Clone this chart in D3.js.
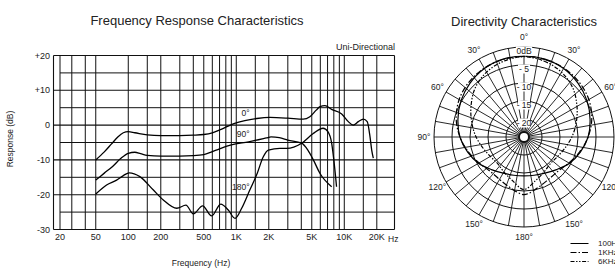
<!DOCTYPE html>
<html><head><meta charset="utf-8">
<script src="https://cdn.jsdelivr.net/npm/d3@7/dist/d3.min.js"></script>
<style>
body{margin:0;background:#fff}
svg{display:block}
text{font-family:"Liberation Sans",Arial,sans-serif;fill:#222}
</style>
</head><body>
<svg id="c" width="615" height="268"></svg>
<script>
// ---------- data ----------
const freqGrid = [20,30,40,50,100,150,200,300,400,500,600,700,800,900,1000,1500,2000,3000,4000,5000,6000,7000,8000,9000,10000,15000,20000];
const freqTicks = [20,50,100,200,500,1000,2000,5000,10000,20000];
const freqTickLabels = ["20","50","100","200","500","1K","2K","5K","10K","20K"];
const dbMajor = [20,10,0,-10,-20,-30];
const dbMajorLabels = ["+20","+10","0","-10","-20","-30"];
const dbMinor = [15,5,-5,-15,-25];

const resp0 = [[50,-10],[60,-7.7],[70,-5.4],[80,-3.4],[90,-2.2],[100,-1.9],[115,-2.2],[150,-2.8],[200,-3.0],[300,-3.0],[400,-2.9],[500,-2.7],[600,-2.2],[700,-1.4],[800,-0.6],[950,0.4],[1200,1.3],[1550,1.9],[2050,2.2],[3000,2.0],[4170,1.7],[4800,2.4],[5500,4.3],[5960,5.3],[6620,5.6],[7640,4.5],[9460,3.2],[10900,1.0],[12100,0],[13500,1.0],[15000,1.7],[16300,1.0],[17300,-3.3],[17940,-7.2],[18570,-9.5]];
const resp90 = [[50,-15.8],[60,-13.8],[72,-11.8],[85,-9.6],[100,-8.1],[115,-7.8],[130,-8.2],[150,-8.7],[200,-8.9],[300,-8.9],[400,-8.8],[500,-8.5],[600,-7.6],[700,-6.8],[900,-5.7],[1300,-4.8],[1900,-3.7],[2100,-3.4],[2500,-3.6],[3000,-4.3],[4030,-5.2],[4600,-7.2],[5170,-10],[5960,-13.9],[7640,-17.7]];
const resp180 = [[50,-19.8],[63,-17.2],[78,-15.8],[90,-14.5],[102,-13.7],[128,-14.8],[170,-18.6],[211,-21.5],[281,-23.9],[342,-23.0],[400,-25.5],[488,-23.2],[591,-26.1],[718,-22.7],[843,-24.4],[974,-26.8],[1122,-23.9],[1337,-18.6],[1544,-14.3],[1779,-9.1],[1982,-7.2],[2535,-6.7],[2930,-6.7],[4030,-5.2],[5160,-2.4],[6360,-0.9],[7050,-1.9],[7640,-5.2],[8000,-10],[8480,-17.7]];
const curveLabels = ["0°","90°","180°"];
const curveLabelPos = [[1330,2.6],[1330,-3.4],[1330,-18.6]];

const polarAngles = [0,15,30,45,60,75,90,105,120,135,150,165,180];
const polar100 = [-2.5,-2.6,-3.0,-3.8,-4.8,-6.0,-7.2,-8.8,-10.4,-12.2,-13.4,-14.0,-14.2];
const polar1k  = [-2.6,-2.7,-2.9,-3.4,-4.2,-5.5,-7.2,-9.0,-10.6,-11.6,-11.4,-10.4,-9.0];
const polar6k  = [-2.7,-3.2,-4.2,-5.8,-8.0,-10.0,-11.7,-13.2,-14.2,-14.6,-13.8,-12.5,-10.4];
const ringDb = [0,-5,-10,-15,-20];
const ringLabels = ["0dB","- 5","- 10","- 15","- 20"];
const angleLabelAngles = [0,30,60,90,120,150,180,-30,-60,-90,-120,-150];
const legendLabels = ["100Hz","1KHz","6KHz"];

// ---------- frequency response chart ----------
const svg = d3.select("#c");
const x = d3.scaleLog().domain([20,30,20000]).range([60,71.8,376.8]);
const y = d3.scaleLinear().domain([-30,20]).range([229.5,55.5]);
const L = 53.5, R = 394.5;
const g = svg.append("g");

g.selectAll("line.hmin").data(dbMinor).join("line").attr("class","hmin")
  .attr("x1",x(20)).attr("x2",R).attr("y1",d=>y(d)).attr("y2",d=>y(d))
  .attr("stroke","#111").attr("stroke-width",1);
g.selectAll("line.hmaj").data(dbMajor).join("line").attr("class","hmaj")
  .attr("x1",L).attr("x2",R).attr("y1",d=>y(d)).attr("y2",d=>y(d))
  .attr("stroke","#111").attr("stroke-width",1.1);
g.selectAll("line.v").data(freqGrid).join("line").attr("class","v")
  .attr("x1",d=>x(d)).attr("x2",d=>x(d)).attr("y1",y(20)).attr("y2",y(-30))
  .attr("stroke","#111").attr("stroke-width",1);
[L,R].forEach(px=>g.append("line").attr("x1",px).attr("x2",px).attr("y1",y(20)).attr("y2",y(-30)).attr("stroke","#111").attr("stroke-width",1.1));

g.selectAll("text.yl").data(dbMajor).join("text").attr("class","yl")
  .attr("x",50).attr("y",d=>y(d)).attr("dy","0.35em").attr("text-anchor","end")
  .attr("font-size",9).text((d,i)=>dbMajorLabels[i]);
g.selectAll("text.xl").data(freqTicks).join("text").attr("class","xl")
  .attr("x",d=>x(d)).attr("y",240).attr("text-anchor","middle")
  .attr("font-size",9).text((d,i)=>freqTickLabels[i]);
g.append("text").attr("x",388).attr("y",242).attr("font-size",8.5).text("Hz");

g.append("text").attr("x",197).attr("y",25).attr("text-anchor","middle").attr("font-size",13).text("Frequency Response Characteristics");
g.append("text").attr("x",395).attr("y",50).attr("text-anchor","end").attr("font-size",9).attr("fill","#333").text("Uni-Directional");
g.append("text").attr("x",201).attr("y",266).attr("text-anchor","middle").attr("font-size",8.5).text("Frequency (Hz)");
g.append("text").attr("transform","translate(13,139) rotate(-90)").attr("text-anchor","middle").attr("font-size",8.5).text("Response (dB)");

const line = d3.line().x(d=>x(d[0])).y(d=>y(d[1])).curve(d3.curveMonotoneX);
[resp0,resp90,resp180].forEach(s=>{
  g.append("path").attr("d",line(s)).attr("fill","none").attr("stroke","#000").attr("stroke-width",1.3);
});
g.selectAll("text.cl").data(curveLabelPos).join("text").attr("class","cl")
  .attr("x",d=>x(d[0])).attr("y",d=>y(d[1])).attr("text-anchor","end")
  .attr("font-size",8.5).attr("fill","#333").text((d,i)=>curveLabels[i]);

// ---------- directivity chart ----------
const cx = 524, cy = 137;
const r = d3.scaleLinear().domain([-25,0]).range([0,90]);
const p = svg.append("g").attr("transform",`translate(${cx},${cy})`);
svg.append("text").attr("x",cx).attr("y",26).attr("text-anchor","middle").attr("font-size",13).text("Directivity Characteristics");

const spokes = d3.range(0,360,10);
p.selectAll("line.sp").data(spokes).join("line").attr("class","sp")
  .attr("x1",d=>Math.sin(d*Math.PI/180)*4).attr("y1",d=>-Math.cos(d*Math.PI/180)*4)
  .attr("x2",d=>Math.sin(d*Math.PI/180)*r(0)).attr("y2",d=>-Math.cos(d*Math.PI/180)*r(0))
  .attr("stroke","#111").attr("stroke-width",0.9);
p.selectAll("circle.ring").data(ringDb).join("circle").attr("class","ring")
  .attr("r",d=>r(d)).attr("fill","none").attr("stroke","#111").attr("stroke-width",1);
p.append("circle").attr("r",5).attr("fill","#fff").attr("stroke","#111").attr("stroke-width",2);

// polar curves
function full(vals){
  const pts = polarAngles.map((a,i)=>[a,vals[i]]);
  const mirror = polarAngles.slice(1,-1).reverse().map(a=>[360-a, vals[polarAngles.indexOf(a)]]);
  return pts.concat(mirror);
}
const radial = d3.lineRadial().angle(d=>d[0]*Math.PI/180).radius(d=>r(d[1])).curve(d3.curveCatmullRomClosed);
const polarStyles = [null,"6,2,1.5,2","4,1.6,1.4,1.6,1.4,1.6"];
[polar100,polar1k,polar6k].forEach((s,i)=>{
  p.append("path").attr("d",radial(full(s))).attr("fill","none").attr("stroke","#000")
   .attr("stroke-width",1.2).attr("stroke-dasharray",polarStyles[i]);
});

// ring labels
const rl = p.selectAll("g.rl").data(ringDb).join("g").attr("class","rl")
  .attr("transform",d=>`translate(0,${-r(d)+4})`);
rl.append("rect").attr("x",(d,i)=>i===0?-8:-6).attr("y",-4.5).attr("width",(d,i)=>i===0?16:12).attr("height",9).attr("fill","#fff");
rl.append("text").attr("text-anchor","middle").attr("dy","0.35em").attr("font-size",8.5).text((d,i)=>ringLabels[i]);

// angle labels
p.selectAll("text.al").data(angleLabelAngles).join("text").attr("class","al")
  .attr("x",d=>Math.sin(d*Math.PI/180)*100).attr("y",d=>-Math.cos(d*Math.PI/180)*100)
  .attr("dy","0.35em").attr("text-anchor","middle").attr("font-size",8.5)
  .text(d=>Math.abs(d)+"°");

// legend
const lg = svg.append("g");
legendLabels.forEach((t,i)=>{
  const yy = 243.5 + i*9;
  lg.append("line").attr("x1",570.5).attr("x2",588.5).attr("y1",yy).attr("y2",yy)
    .attr("stroke","#000").attr("stroke-width",1).attr("stroke-dasharray",polarStyles[i]);
  lg.append("text").attr("x",598).attr("y",yy).attr("dy","0.35em").attr("font-size",8).text(t);
});
</script>
</body></html>
